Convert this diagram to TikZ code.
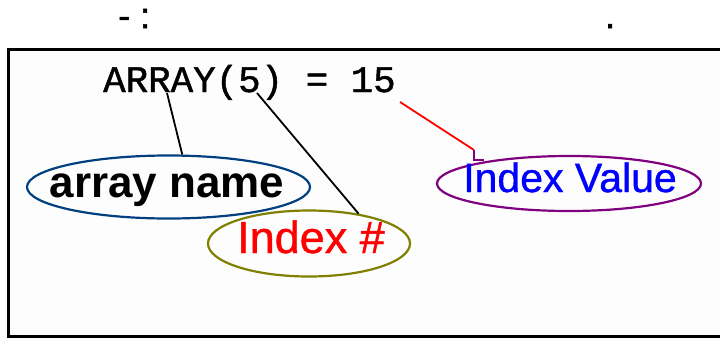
\documentclass[tikz,border=0pt]{standalone}
\usepackage{fontspec}
\setmainfont{Liberation Sans}
\newfontfamily\monofnt[FakeBold=1.2]{Liberation Mono}
\newfontfamily\labfnt[FakeBold=0.9]{Liberation Sans}
\newfontfamily\topfnt[FakeBold=1.5]{Liberation Sans}
\usetikzlibrary{shapes.geometric}
\definecolor{ellblue}{RGB}{0,64,128}
\definecolor{ellolive}{RGB}{128,128,0}
\definecolor{ellpurple}{RGB}{128,0,128}
\definecolor{boxfill}{RGB}{253,253,253}
\tikzset{
  oval/.style={ellipse, draw, line width=2.2pt, inner sep=0pt},
  lbl/.style={inner sep=0pt, anchor=base},
  pointer/.style={line width=1.8pt},
}
\begin{document}
\begin{tikzpicture}[x=1pt,y=-1pt]
\useasboundingbox (0,0) rectangle (720,338);
\fill[white] (0,0) rectangle (720,338);
% frame
\fill[boxfill] (8,49) rectangle (730,336);
\draw[line width=3pt] (730,49) -- (8,49) -- (8,336) -- (730,336);
% top text
\node[inner sep=0pt, anchor=base west, font=\topfnt\fontsize{36}{40}\selectfont] (toptxt) at (118,28) {- :};
\node[inner sep=0pt, anchor=base west, font=\topfnt\fontsize{36}{40}\selectfont] (dot) at (605,28) {.};
% statement
\node[inner sep=0pt, anchor=base west, font=\monofnt\fontsize{37.5}{40}\selectfont] (stmt) at (103,92) {ARRAY(5) = 15};
% ellipses
\node[oval, draw=ellblue, minimum width=283pt, minimum height=63pt] (aname) at (168.5,187) {};
\node[oval, draw=ellolive, minimum width=202pt, minimum height=66pt] (idx) at (309,243.5) {};
\node[oval, draw=ellpurple, minimum width=264pt, minimum height=55pt] (ival) at (569,183.5) {};
% labels
\node[lbl, font=\bfseries\fontsize{44}{48}\selectfont] (anametxt) at (167,197) {array name};
\node[lbl, text={rgb,255:red,255;green,0;blue,0}, font=\labfnt\fontsize{45}{48}\selectfont] (idxtxt) at (311,253) {Index \#};
\node[lbl, text={rgb,255:red,0;green,0;blue,255}, font=\labfnt\fontsize{41}{44}\selectfont] (ivaltxt) at (570,192) {Index Value};
% connectors
\coordinate (pA) at (167,93);
\coordinate (pP) at (257,93);
\coordinate (pV) at (400,102);
\coordinate (hook) at (474,150);
\coordinate (hookend) at (484,160);
\draw[pointer] (pA) -- (aname.67);
\draw[pointer] (pP) -- (idx.31);
\draw[pointer, red] (pV) -- (hook);
\draw[pointer, ellpurple] (hook) |- (hookend);
\end{tikzpicture}
\end{document}
